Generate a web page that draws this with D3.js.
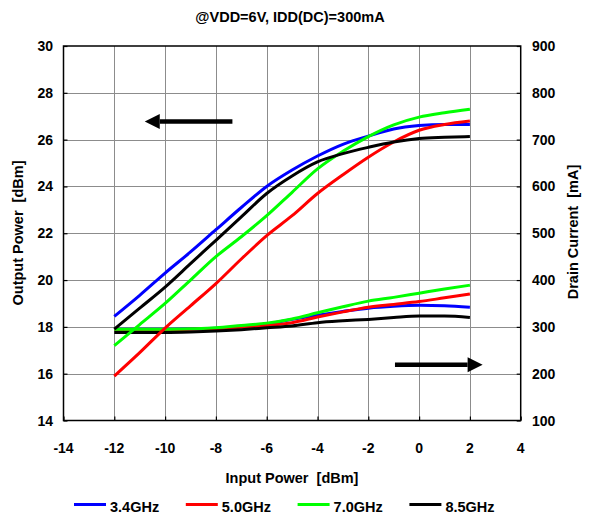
<!DOCTYPE html>
<html lang='en'>
<head>
    <title>Pout and Idd vs Pin</title>
    <meta charset='UTF-8'>
    <script src='https://d3js.org/d3.v7.min.js'></script>
    <style>
      body { margin: 0; background: #fff; }
      svg { font-family: Arial, 'Liberation Sans', sans-serif; font-weight: bold; }
    </style>
</head>
<body>
<svg width='591' height='514'></svg>

<script>
  // input power sweep (dBm)
  const pin = [-12, -11, -10, -9, -8, -7, -6, -5, -4, -3, -2, -1, 0, 1, 2]

  // output power (dBm), left axis
  const pout34 = [18.45, 19.35, 20.3, 21.2, 22.15, 23.1, 24.0, 24.7, 25.3, 25.8, 26.15, 26.45, 26.6, 26.65, 26.65]
  const pout50 = [15.9, 16.9, 17.95, 18.9, 19.85, 20.9, 21.9, 22.75, 23.7, 24.5, 25.25, 25.9, 26.4, 26.65, 26.8]
  const pout70 = [17.2, 18.1, 19.0, 20.0, 21.0, 21.85, 22.75, 23.75, 24.75, 25.5, 26.13, 26.63, 26.96, 27.15, 27.3]
  const pout85 = [17.9, 18.8, 19.7, 20.7, 21.7, 22.7, 23.7, 24.45, 25.05, 25.4, 25.67, 25.9, 26.05, 26.1, 26.13]

  // drain current (mA), right axis
  const idd34 = [295, 295, 295, 296, 297, 301, 306, 316, 325, 333, 340, 344, 346, 345, 342]
  const idd50 = [295, 294, 294, 295, 296, 299, 303, 309, 321, 332, 342, 348, 354, 362, 370]
  const idd70 = [295, 295, 295, 296, 298, 303, 308, 317, 330, 343, 355, 363, 372, 381, 389]
  const idd85 = [288, 288, 288, 289, 291, 294, 298, 302, 309, 313, 316, 320, 323, 323, 320]

  const freqs = ['3.4GHz', '5.0GHz', '7.0GHz', '8.5GHz']
  const colors = ['#0000ff', '#ff0000', '#00ff00', '#000000']

  const xTicks = [-14, -12, -10, -8, -6, -4, -2, 0, 2, 4]
  const yLeftTicks = [14, 16, 18, 20, 22, 24, 26, 28, 30]
  const yRightTicks = [100, 200, 300, 400, 500, 600, 700, 800, 900]

  // arrows pointing at the matching axis: [x0, x1, value]
  const arrowLeft = [-7.35, -10.8, 26.77]
  const arrowRight = [-0.95, 2.5, 219]

  const margin = {left: 63.5, right: 520.7, top: 46, bottom: 420.5}
  const svg = d3.select('svg')

  const x = d3.scaleLinear().domain([-14, 4]).range([margin.left, margin.right])
  const yL = d3.scaleLinear().domain([14, 30]).range([margin.bottom, margin.top])
  const yR = d3.scaleLinear().domain([100, 900]).range([margin.bottom, margin.top])

  // grid, drawn as 1px filled strips so it stays sharp
  const gx0 = Math.round(margin.left), gx1 = Math.round(margin.right)
  const gy0 = Math.round(margin.top), gy1 = Math.round(margin.bottom)
  const grid = svg.append('g').attr('fill', '#8c8c8c').attr('shape-rendering', 'crispEdges')
  grid.selectAll('rect.v')
    .data(xTicks.slice(1, -1)).enter()
    .append('rect').attr('class', 'v')
      .attr('x', d => Math.round(x(d))).attr('y', gy0)
      .attr('width', 1).attr('height', gy1 - gy0)
  grid.selectAll('rect.h')
    .data(yLeftTicks.slice(1, -1)).enter()
    .append('rect').attr('class', 'h')
      .attr('x', gx0).attr('y', d => Math.round(yL(d)))
      .attr('width', gx1 - gx0).attr('height', 1)

  // axes, ticks inward
  const axB = svg.append('g').attr('transform', `translate(0,${margin.bottom})`)
    .call(d3.axisTop(x).tickValues(xTicks).tickSize(4).tickFormat(''))
  const axL = svg.append('g').attr('transform', `translate(${margin.left},0)`)
    .call(d3.axisRight(yL).tickValues(yLeftTicks).tickSize(4).tickFormat(''))
  const axR = svg.append('g').attr('transform', `translate(${margin.right},0)`)
    .call(d3.axisLeft(yR).tickValues(yRightTicks).tickSize(4).tickFormat(''))
  ;[axB, axL, axR].forEach(a => {
    a.select('.domain').remove()
    a.selectAll('line').attr('stroke', '#000').attr('stroke-width', 1.2)
  })

  svg.append('rect')
    .attr('x', margin.left).attr('y', margin.top)
    .attr('width', margin.right - margin.left).attr('height', margin.bottom - margin.top)
    .attr('fill', 'none').attr('stroke', '#000').attr('stroke-width', 1.5)

  // tick labels
  svg.append('g').selectAll('text')
    .data(xTicks).enter().append('text')
      .attr('x', d => x(d)).attr('y', 453)
      .attr('text-anchor', 'middle').style('font-size', '14px')
      .text(d => d)
  svg.append('g').selectAll('text')
    .data(yLeftTicks).enter().append('text')
      .attr('x', 53).attr('y', d => yL(d) + 5)
      .attr('text-anchor', 'end').style('font-size', '14px')
      .text(d => d)
  svg.append('g').selectAll('text')
    .data(yRightTicks).enter().append('text')
      .attr('x', 532).attr('y', d => yR(d) + 5)
      .attr('text-anchor', 'start').style('font-size', '14px')
      .text(d => d)

  // titles
  svg.append('text').attr('x', 290).attr('y', 22)
    .attr('text-anchor', 'middle').style('font-size', '14.5px')
    .text('@VDD=6V, IDD(DC)=300mA')
  svg.append('text').attr('x', 292).attr('y', 483)
    .attr('text-anchor', 'middle').style('font-size', '14.5px')
    .attr('xml:space', 'preserve')
    .text('Input Power  [dBm]')
  svg.append('text')
    .attr('transform', 'translate(23,233) rotate(-90)')
    .attr('text-anchor', 'middle').style('font-size', '14.5px')
    .attr('xml:space', 'preserve')
    .text('Output Power  [dBm]')
  svg.append('text')
    .attr('transform', 'translate(578,232) rotate(-90)')
    .attr('text-anchor', 'middle').style('font-size', '14.5px')
    .attr('xml:space', 'preserve')
    .text('Drain Current  [mA]')

  // curves
  const lineL = d3.line().x((d, i) => x(pin[i])).y(d => yL(d)).curve(d3.curveMonotoneX)
  const lineR = d3.line().x((d, i) => x(pin[i])).y(d => yR(d)).curve(d3.curveMonotoneX)

  const idd = [idd34, idd50, idd70, idd85]
  const pout = [pout34, pout50, pout70, pout85]

  svg.append('g').selectAll('path')
    .data(idd).enter().append('path')
      .attr('d', lineR)
      .attr('fill', 'none').attr('stroke', (d, i) => colors[i]).attr('stroke-width', 3)
  svg.append('g').selectAll('path')
    .data(pout).enter().append('path')
      .attr('d', lineL)
      .attr('fill', 'none').attr('stroke', (d, i) => colors[i]).attr('stroke-width', 3)

  // arrows
  function arrow(x0, x1, y) {
    const dir = Math.sign(x1 - x0)
    const headLen = 15, headHalf = 7.5
    svg.append('line')
      .attr('x1', x0).attr('x2', x1 - dir * headLen)
      .attr('y1', y).attr('y2', y)
      .attr('stroke', '#000').attr('stroke-width', 4.5)
    svg.append('path')
      .attr('d', `M${x1},${y} L${x1 - dir * headLen},${y - headHalf} L${x1 - dir * headLen},${y + headHalf} Z`)
      .attr('fill', '#000')
  }
  arrow(x(arrowLeft[0]), x(arrowLeft[1]), yL(arrowLeft[2]))
  arrow(x(arrowRight[0]), x(arrowRight[1]), yR(arrowRight[2]))

  // legend (cut by the bottom edge, as in the original)
  const leg = svg.append('g').selectAll('g')
    .data(freqs).enter().append('g')
      .attr('transform', (d, i) => `translate(${74 + i * 111.8},504.5)`)
  leg.append('line')
    .attr('x1', 0).attr('x2', 32).attr('y1', 0).attr('y2', 0)
    .attr('stroke', (d, i) => colors[i]).attr('stroke-width', 3)
  leg.append('text')
    .attr('x', 36).attr('y', 7.5).style('font-size', '14.5px')
    .text(d => d)
</script>
</body>
</html>
